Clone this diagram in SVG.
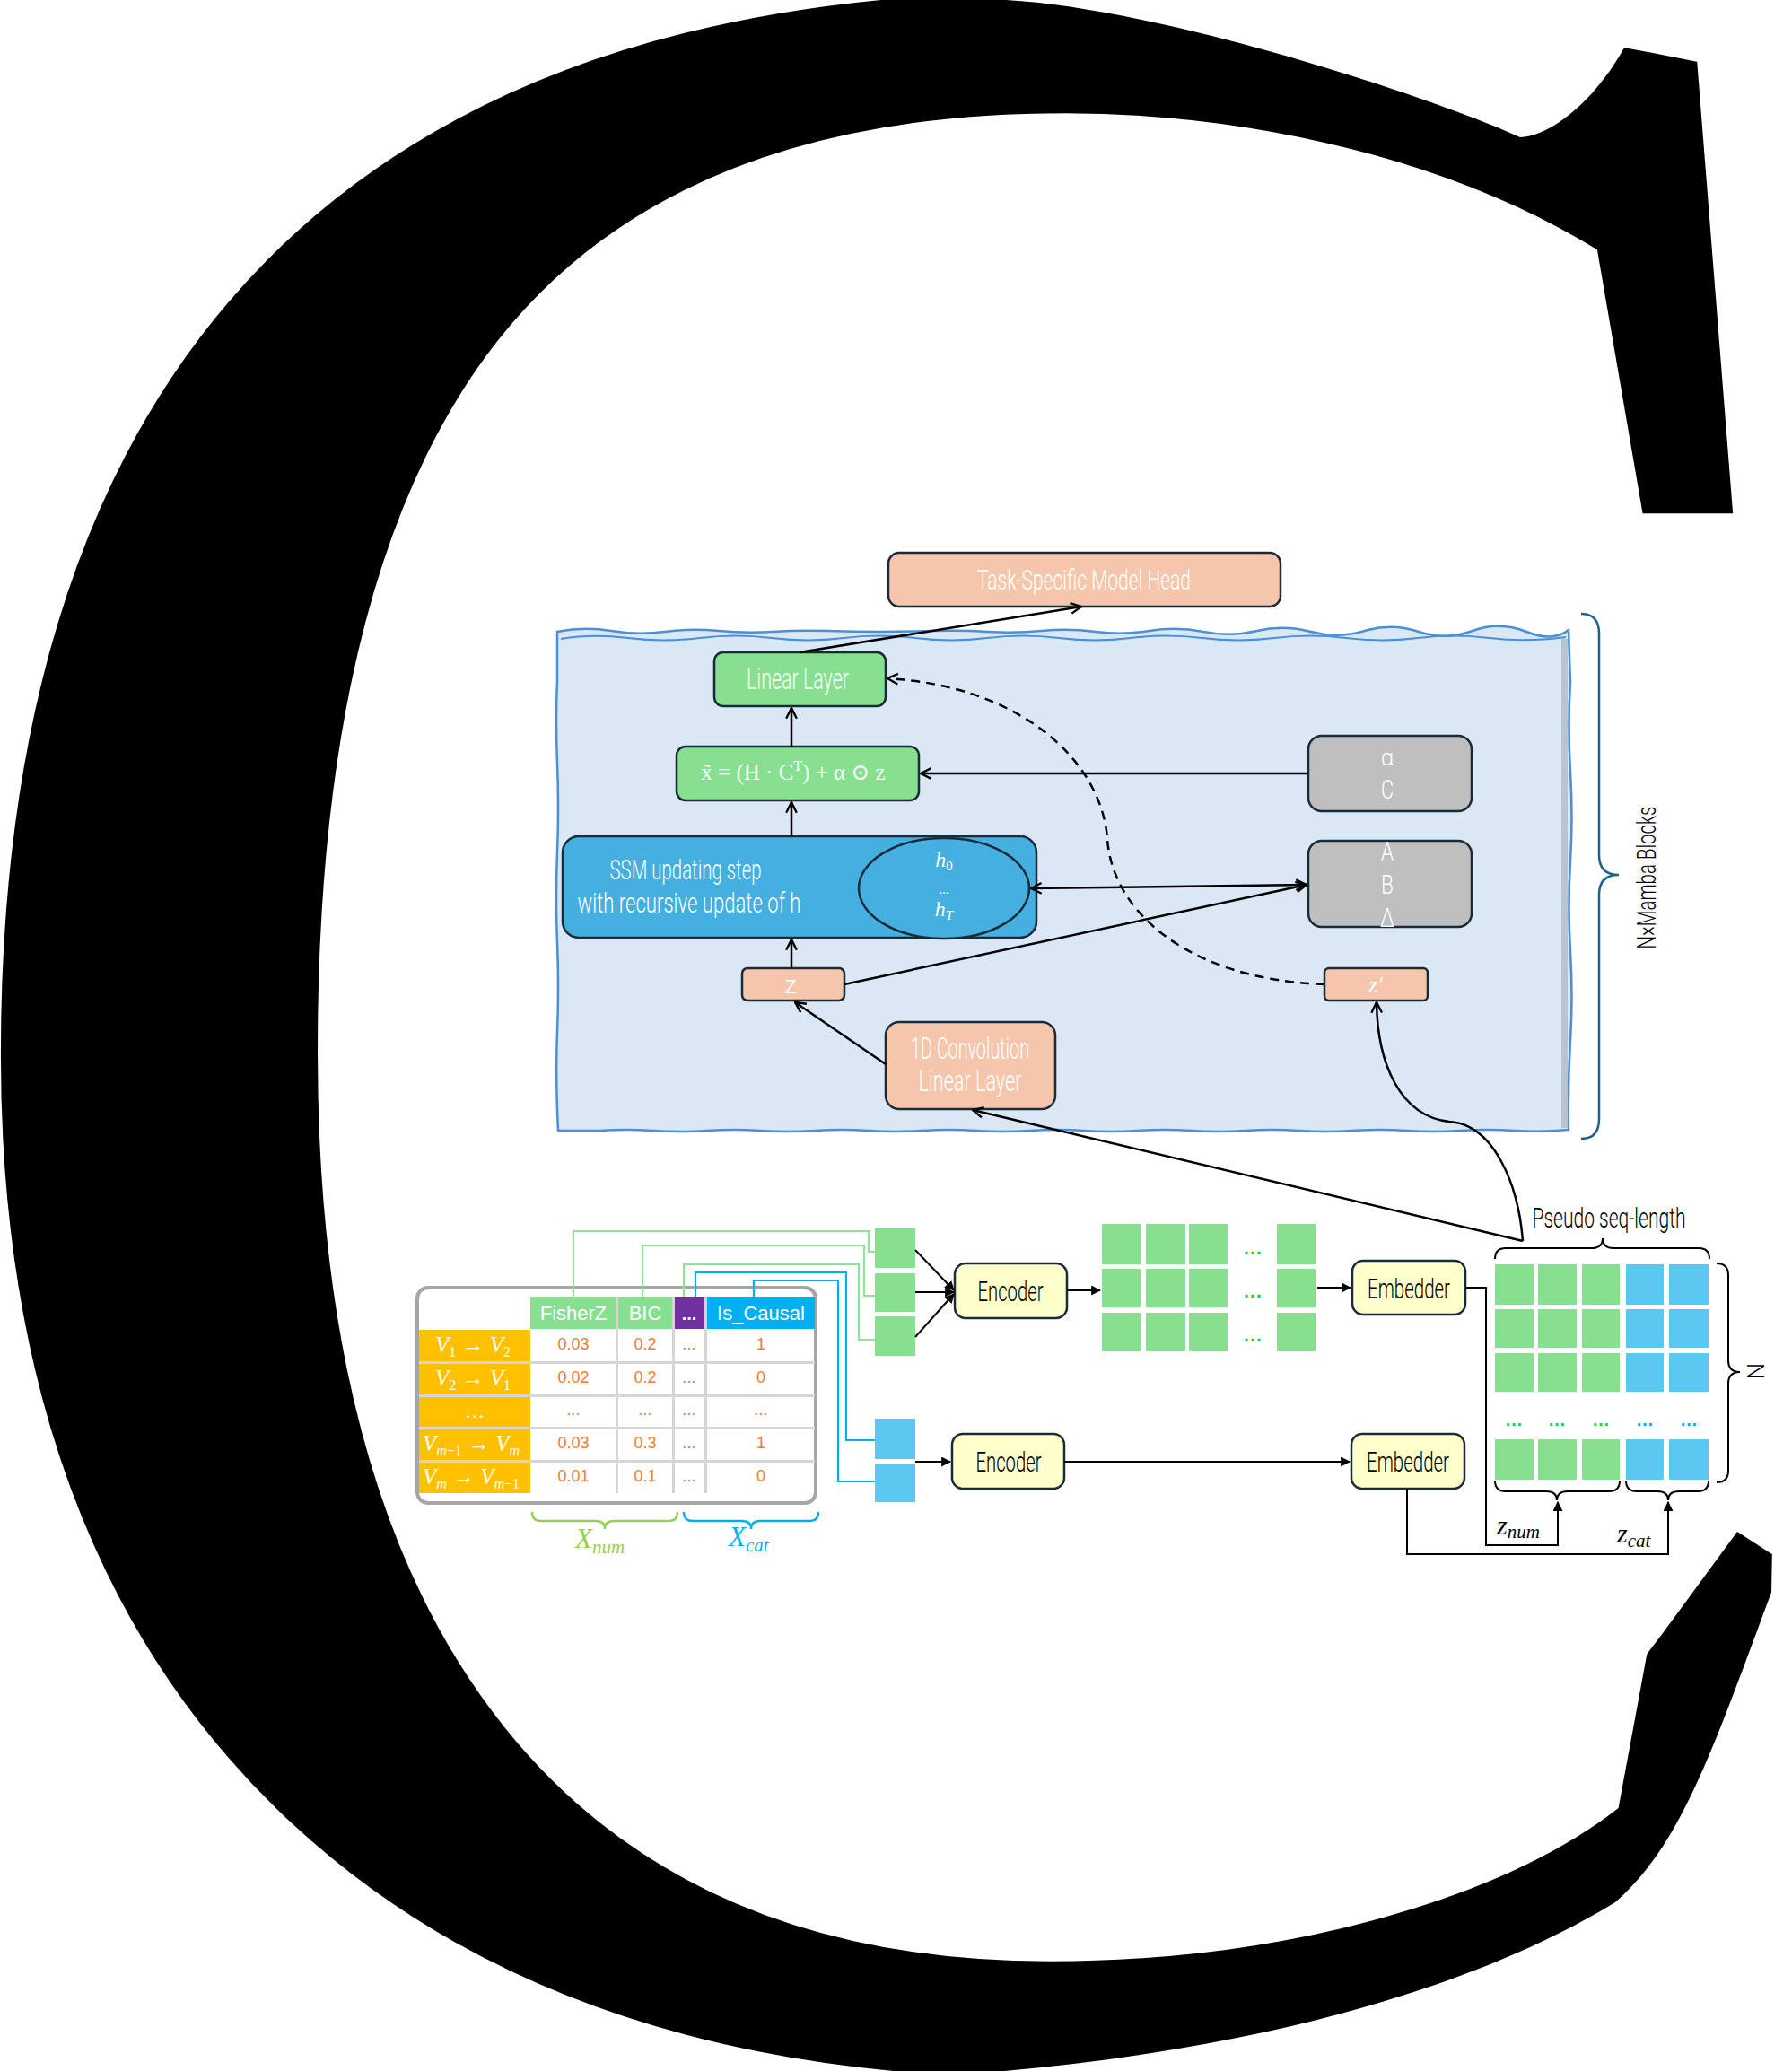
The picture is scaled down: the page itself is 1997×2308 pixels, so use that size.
<svg xmlns="http://www.w3.org/2000/svg" width="1997" height="2308" viewBox="0 0 1997 2308">
<style>
.bx{stroke:#1B2A38;stroke-width:2.5}
.pe{fill:#F5C6AC}
.gr{fill:#86E08F}
.gy{fill:#BFBFBF}
.yl{fill:#FFFFCC}
.cn{font-family:Roboto,'Open Sans',sans-serif;font-weight:300;text-anchor:middle}
.wt{fill:#FFFFFF}
.bk{fill:#000000}
.sr{font-family:'Liberation Serif','DejaVu Serif',serif}
.ar{font-family:'Liberation Sans',Arial,sans-serif;text-anchor:middle}
.ln{fill:none;stroke:#000;stroke-width:2.5}
.lb{fill:none;stroke:#000;stroke-width:2}
.gs{fill:#86E08F}
.bs{fill:#5BC8F2}
.or{fill:#ED7D31;font-size:18px}
</style>
<defs>
<marker id="ao" viewBox="0 0 12 12" refX="11" refY="6" markerWidth="14" markerHeight="14" markerUnits="userSpaceOnUse" orient="auto-start-reverse"><path d="M1,1 L11,6 L1,11" fill="none" stroke="#000" stroke-width="2"/></marker>
<marker id="af" viewBox="0 0 10 10" refX="9" refY="5" markerWidth="11" markerHeight="11" markerUnits="userSpaceOnUse" orient="auto"><path d="M0,0 L10,5 L0,10 z" fill="#000"/></marker>
<clipPath id="cclip"><path clip-rule="evenodd" d="M-50,-50 H2050 V2360 H-50 Z
M1121,-10 L1121,0 C1300,10 1600,110 1694,153 C1750,150 1820,60 1830,0 L1830,-10 Z
M1885,-10 L2010,-10 L2010,760 L1946,760 Z
M1700,1550 L2010,1550 L2010,2320 L1070,2320 L1070,2312 C1350,2292 1620,2230 1800,2120 C1880,2050 1915,1930 1987,1740 L1936,1707 L1853,1820 L1800,1890 L1700,1890 Z"/></clipPath>
</defs>
<rect width="1997" height="2308" fill="#FFFFFF"/>
<g id="bigC" clip-path="url(#cclip)"><text x="-141" y="2282" font-family="'Liberation Serif','Times New Roman',serif" font-size="3460" fill="#000">C</text></g>

<g id="mambaBlock">
<path d="M621,704 Q651,698 681,703 T741,704 T801,703 T861,704 T921,703 T981,704 T1041,703 T1101,704 T1161,703 T1221,704 T1281,703 T1341,704 T1401,703 T1461,704 T1521,703 T1581,704 T1641,703 T1701,704 T1748,702 L1750,760 Q1747,810 1750,860 T1750,960 T1750,1060 T1750,1160 T1748,1259 Q1718,1262 1688,1260 T1628,1260 T1568,1260 T1508,1260 T1448,1260 T1388,1260 T1328,1260 T1268,1260 T1208,1260 T1148,1260 T1088,1260 T1028,1260 T968,1260 T908,1260 T848,1260 T788,1260 T728,1260 T668,1260 L622,1260 Q619,1200 621,1150 T621,1050 T621,950 T621,850 T621,760 Z" fill="#DAE8F5" stroke="#4A8FD8" stroke-width="2.5"/>
<path d="M625,712 Q660,706 700,711 T780,711 T860,711 T940,711 T1020,711 T1100,711 T1180,711 T1260,711 T1340,711 T1420,711 T1500,711 T1580,711 T1660,711 T1745,710" fill="none" stroke="#4A8FD8" stroke-width="2"/>
<rect x="1740" y="712" width="7" height="545" fill="#B8C4D0"/>
</g>

<g id="braceMamba"><path d="M1762,684 q20,0 20,22 L1782,953 q0,22 22,22 q-22,0 -22,22 L1782,1247 q0,22 -20,22" fill="none" stroke="#1F5F8B" stroke-width="2.5"/>
<text class="cn bk" transform="translate(1845,978) rotate(-90)" font-size="30" textLength="159" lengthAdjust="spacingAndGlyphs">N×Mamba Blocks</text></g>

<g id="taskHead"><rect class="bx pe" x="990" y="616" width="437" height="60" rx="12"/><text class="cn wt" x="1208" y="657" font-size="32" textLength="238" lengthAdjust="spacingAndGlyphs">Task-Specific Model Head</text></g>
<g id="linearLayer"><rect class="bx gr" x="796" y="727" width="191" height="60" rx="10"/><text class="cn wt" x="889" y="768" font-size="33" textLength="114" lengthAdjust="spacingAndGlyphs">Linear Layer</text></g>
<g id="formula"><rect class="bx gr" x="754" y="832" width="270" height="60" rx="10"/><text class="sr wt" x="884" y="869" font-size="25" text-anchor="middle">x&#x303; = (H · C<tspan dy="-10" font-size="16">T</tspan><tspan dy="10">) + α ⊙ z</tspan></text></g>
<g id="ssm"><rect class="bx" fill="#45AFE0" x="627" y="932" width="528" height="113" rx="18"/>
<text class="cn wt" x="764" y="980" font-size="31" textLength="169" lengthAdjust="spacingAndGlyphs">SSM updating step</text>
<text class="cn wt" x="768" y="1017" font-size="31" textLength="249" lengthAdjust="spacingAndGlyphs">with recursive update of h</text>
<ellipse cx="1052" cy="990" rx="95" ry="56" fill="#45AFE0" stroke="#1B2A38" stroke-width="2.5"/>
<text class="sr wt" x="1052" y="966" font-size="24" text-anchor="middle" font-style="italic">h<tspan font-size="15" dy="4" font-style="normal">0</tspan></text>
<text class="sr wt" x="1052" y="996" font-size="14" text-anchor="middle">...</text>
<text class="sr wt" x="1052" y="1021" font-size="24" text-anchor="middle" font-style="italic">h<tspan font-size="15" dy="4">T</tspan></text></g>
<g id="alphaC"><rect class="bx gy" x="1458" y="820" width="182" height="84" rx="15"/><text class="cn wt" x="1546" y="853" font-size="26">α</text><text class="cn wt" x="1546" y="890" font-size="30" textLength="14" lengthAdjust="spacingAndGlyphs">C</text></g>
<g id="abDelta"><rect class="bx gy" x="1458" y="937" width="182" height="96" rx="15"/><text class="cn wt" x="1546" y="959" font-size="30" textLength="14" lengthAdjust="spacingAndGlyphs">A</text><text class="cn wt" x="1546" y="996" font-size="30" textLength="14" lengthAdjust="spacingAndGlyphs">B</text><text class="cn wt" x="1546" y="1033" font-size="30" textLength="16" lengthAdjust="spacingAndGlyphs">Δ</text></g>
<g id="zNode"><rect class="bx pe" x="827" y="1079" width="114" height="36" rx="6"/><text class="cn wt" x="881" y="1107" font-size="28">z</text></g>
<g id="zPrime"><rect class="bx pe" x="1476" y="1079" width="115" height="36" rx="5"/><text class="sr wt" x="1533" y="1106" font-size="26" text-anchor="middle" font-style="italic">z′</text></g>
<g id="conv"><rect class="bx pe" x="987" y="1139" width="189" height="97" rx="15"/><text class="cn wt" x="1081" y="1180" font-size="33" textLength="132" lengthAdjust="spacingAndGlyphs">1D Convolution</text><text class="cn wt" x="1081" y="1216" font-size="33" textLength="115" lengthAdjust="spacingAndGlyphs">Linear Layer</text></g>

<g id="table">
<rect x="465" y="1435" width="444" height="240" rx="12" fill="#FFFFFF" stroke="#A6A6A6" stroke-width="4"/>
<rect x="591" y="1445" width="96" height="36" fill="#86E08F"/>
<rect x="688" y="1445" width="61" height="36" fill="#86E08F"/>
<rect x="751" y="1445" width="34" height="36" fill="#7030A0"/>
<rect x="788" y="1445" width="120" height="36" fill="#00B0F0"/>
<text class="ar wt" x="639" y="1471" font-size="22">FisherZ</text>
<text class="ar wt" x="719" y="1471" font-size="22">BIC</text>
<text class="ar wt" x="768" y="1471" font-size="20" font-weight="bold">...</text>
<text class="ar wt" x="848" y="1471" font-size="22">Is_Causal</text>
<rect x="467" y="1482" width="124" height="35" fill="#FFC000"/>
<rect x="467" y="1520" width="124" height="34" fill="#FFC000"/>
<rect x="467" y="1557" width="124" height="33" fill="#FFC000"/>
<rect x="467" y="1593" width="124" height="34" fill="#FFC000"/>
<rect x="467" y="1630" width="124" height="34" fill="#FFC000"/>
<g fill="#D6D6D6"><rect x="467" y="1517" width="441" height="3"/><rect x="467" y="1554" width="441" height="3"/><rect x="467" y="1590" width="441" height="3"/><rect x="467" y="1627" width="441" height="3"/>
<rect x="686" y="1445" width="3" height="219"/><rect x="749" y="1445" width="3" height="219"/><rect x="785" y="1445" width="3" height="219"/></g>
<g class="sr wt" font-size="25" text-anchor="middle" font-style="italic">
<text x="527" y="1507">V<tspan font-size="16" dy="5" font-style="normal">1</tspan><tspan dy="-5" font-style="normal"> → </tspan>V<tspan font-size="16" dy="5" font-style="normal">2</tspan></text>
<text x="527" y="1544">V<tspan font-size="16" dy="5" font-style="normal">2</tspan><tspan dy="-5" font-style="normal"> → </tspan>V<tspan font-size="16" dy="5" font-style="normal">1</tspan></text>
<text x="529" y="1580" font-style="normal" font-size="22">…</text>
<text x="525" y="1617">V<tspan font-size="16" dy="5">m<tspan font-style="normal">−1</tspan></tspan><tspan dy="-5" font-style="normal"> → </tspan>V<tspan font-size="16" dy="5">m</tspan></text>
<text x="525" y="1654">V<tspan font-size="16" dy="5">m</tspan><tspan dy="-5" font-style="normal"> → </tspan>V<tspan font-size="16" dy="5">m<tspan font-style="normal">−1</tspan></tspan></text>
</g>
<g class="ar or">
<text x="639" y="1504">0.03</text><text x="719" y="1504">0.2</text><text x="768" y="1504">...</text><text x="848" y="1504">1</text>
<text x="639" y="1541">0.02</text><text x="719" y="1541">0.2</text><text x="768" y="1541">...</text><text x="848" y="1541">0</text>
<text x="639" y="1577">...</text><text x="719" y="1577">...</text><text x="768" y="1577">...</text><text x="848" y="1577">...</text>
<text x="639" y="1614">0.03</text><text x="719" y="1614">0.3</text><text x="768" y="1614">...</text><text x="848" y="1614">1</text>
<text x="639" y="1651">0.01</text><text x="719" y="1651">0.1</text><text x="768" y="1651">...</text><text x="848" y="1651">0</text>
</g>
</g>
<g id="xnum"><path d="M593,1685 q0,10 10,10 L664,1695 q10,0 10,9 q0,-9 10,-9 L745,1695 q10,0 10,-10" fill="none" stroke="#92D050" stroke-width="2.5"/>
<text class="sr" x="641" y="1725" font-size="31" font-style="italic" fill="#92D050">X<tspan font-size="21" dy="6">num</tspan></text></g>
<g id="xcat"><path d="M762,1685 q0,10 10,10 L827,1695 q10,0 10,9 q0,-9 10,-9 L902,1695 q10,0 10,-10" fill="none" stroke="#00B0F0" stroke-width="2.5"/>
<text class="sr" x="812" y="1723" font-size="31" font-style="italic" fill="#00B0F0">X<tspan font-size="21" dy="6">cat</tspan></text></g>

<g id="numSquares"><rect class="gs" x="975" y="1369" width="45" height="44"/><rect class="gs" x="975" y="1419" width="45" height="43"/><rect class="gs" x="975" y="1467" width="45" height="44"/></g>
<g id="catSquares"><rect class="bs" x="975" y="1581" width="45" height="45"/><rect class="bs" x="975" y="1631" width="45" height="43"/></g>
<g id="encoder1"><rect class="bx yl" x="1064" y="1408" width="125" height="61" rx="12"/><text class="cn bk" x="1126" y="1450" font-size="31" textLength="73" lengthAdjust="spacingAndGlyphs" font-weight="400">Encoder</text></g>
<g id="encoder2"><rect class="bx yl" x="1061" y="1598" width="125" height="61" rx="12"/><text class="cn bk" x="1124" y="1640" font-size="31" textLength="73" lengthAdjust="spacingAndGlyphs" font-weight="400">Encoder</text></g>
<g id="embedder1"><rect class="bx yl" x="1507" y="1405" width="126" height="60" rx="12"/><text class="cn bk" x="1570" y="1447" font-size="31" textLength="92" lengthAdjust="spacingAndGlyphs" font-weight="400">Embedder</text></g>
<g id="embedder2"><rect class="bx yl" x="1506" y="1598" width="126" height="61" rx="12"/><text class="cn bk" x="1569" y="1640" font-size="31" textLength="92" lengthAdjust="spacingAndGlyphs" font-weight="400">Embedder</text></g>

<g id="midGrid">
<rect class="gs" x="1228" y="1364" width="43" height="45"/><rect class="gs" x="1277" y="1364" width="44" height="45"/><rect class="gs" x="1325" y="1364" width="43" height="45"/><rect class="gs" x="1423" y="1364" width="43" height="45"/>
<rect class="gs" x="1228" y="1414" width="43" height="43"/><rect class="gs" x="1277" y="1414" width="44" height="43"/><rect class="gs" x="1325" y="1414" width="43" height="43"/><rect class="gs" x="1423" y="1414" width="43" height="43"/>
<rect class="gs" x="1228" y="1463" width="43" height="43"/><rect class="gs" x="1277" y="1463" width="44" height="43"/><rect class="gs" x="1325" y="1463" width="43" height="43"/><rect class="gs" x="1423" y="1463" width="43" height="43"/>
<g font-family="'Liberation Sans',sans-serif" font-size="22" font-weight="bold" fill="#2ECC40" text-anchor="middle"><text x="1396" y="1398">…</text><text x="1396" y="1446">…</text><text x="1396" y="1495">…</text></g>
</g>

<g id="seqGrid">
<g class="gs"><rect x="1666" y="1409" width="43" height="45"/><rect x="1714" y="1409" width="43" height="45"/><rect x="1763" y="1409" width="42" height="45"/>
<rect x="1666" y="1459" width="43" height="43"/><rect x="1714" y="1459" width="43" height="43"/><rect x="1763" y="1459" width="42" height="43"/>
<rect x="1666" y="1508" width="43" height="43"/><rect x="1714" y="1508" width="43" height="43"/><rect x="1763" y="1508" width="42" height="43"/>
<rect x="1666" y="1604" width="43" height="45"/><rect x="1714" y="1604" width="43" height="45"/><rect x="1763" y="1604" width="42" height="45"/></g>
<g class="bs"><rect x="1812" y="1409" width="42" height="45"/><rect x="1860" y="1409" width="44" height="45"/>
<rect x="1812" y="1459" width="42" height="43"/><rect x="1860" y="1459" width="44" height="43"/>
<rect x="1812" y="1508" width="42" height="43"/><rect x="1860" y="1508" width="44" height="43"/>
<rect x="1812" y="1604" width="42" height="45"/><rect x="1860" y="1604" width="44" height="45"/></g>
<g font-family="'Liberation Sans',sans-serif" font-size="20" font-weight="bold" text-anchor="middle"><text x="1687" y="1589" fill="#2ECC40">…</text><text x="1735" y="1589" fill="#2ECC40">…</text><text x="1784" y="1589" fill="#2ECC40">…</text><text x="1833" y="1589" fill="#1AA3E8">…</text><text x="1882" y="1589" fill="#1AA3E8">…</text></g>
<path d="M1666,1403 q0,-12 12,-12 L1774,1391 q12,0 12,-11 q0,11 12,11 L1893,1391 q12,0 12,12" fill="none" stroke="#000" stroke-width="2"/>
<text class="cn bk" x="1793" y="1368" font-size="31" font-weight="400" textLength="171" lengthAdjust="spacingAndGlyphs">Pseudo seq-length</text>
<path d="M1913,1408 q13,0 13,13 L1926,1516 q0,13 13,13 q-13,0 -13,13 L1926,1639 q0,13 -13,13" fill="none" stroke="#000" stroke-width="2"/>
<text class="cn bk" transform="translate(1966,1528) rotate(-90)" font-size="26" font-weight="400">N</text>
<path d="M1666,1650 q0,12 12,12 L1723,1662 q12,0 12,10 q0,-10 12,-10 L1793,1662 q12,0 12,-12" fill="none" stroke="#000" stroke-width="2"/>
<path d="M1812,1650 q0,12 12,12 L1847,1662 q12,0 12,10 q0,-10 12,-10 L1892,1662 q12,0 12,-12" fill="none" stroke="#000" stroke-width="2"/>
<text class="sr bk" x="1668" y="1710" font-size="30" font-style="italic">z<tspan font-size="21" dy="4">num</tspan></text>
<text class="sr bk" x="1802" y="1719" font-size="30" font-style="italic">z<tspan font-size="21" dy="5">cat</tspan></text>
</g>

<g id="connectors">
<path class="ln" d="M891,727 L1205,676" marker-end="url(#ao)"/>
<path class="ln" d="M882,832 L882,789" marker-end="url(#ao)"/>
<path class="ln" d="M882,932 L882,894" marker-end="url(#ao)"/>
<path class="ln" d="M882,1079 L882,1047" marker-end="url(#ao)"/>
<path class="ln" d="M1458,862 L1026,862" marker-end="url(#ao)"/>
<path class="ln" d="M1149,990 L1456,986" marker-start="url(#ao)" marker-end="url(#ao)"/>
<path class="ln" d="M941,1097 L1456,986" marker-end="url(#ao)"/>
<path class="ln" d="M987,1186 L886,1117" marker-end="url(#ao)"/>
<path class="ln" d="M1697,1383 L1084,1237" marker-end="url(#ao)"/>
<path class="ln" d="M1697,1383 C1692,1320 1665,1253 1615,1250 C1560,1244 1535,1185 1534,1117" marker-end="url(#ao)"/>
<path class="ln" d="M1476,1097 C1330,1092 1240,1020 1234,935 C1228,850 1140,765 989,756" stroke-dasharray="10,7" marker-end="url(#ao)"/>
<g fill="none" stroke="#8FE39A" stroke-width="2.2">
<path d="M639,1445 V1372 H968 V1395 H975"/>
<path d="M716,1445 V1388 H963 V1444 H975"/>
<path d="M762,1445 V1409 H957 V1493 H975"/>
</g>
<g fill="none" stroke="#00B0F0" stroke-width="2.2">
<path d="M775,1445 V1418 H943 V1605 H975"/>
<path d="M840,1445 V1427 H934 V1651 H975"/>
</g>
<path class="lb" d="M1020,1393 L1063,1438" marker-end="url(#af)"/>
<path class="lb" d="M1020,1440 L1063,1440" marker-end="url(#af)"/>
<path class="lb" d="M1020,1490 L1063,1442" marker-end="url(#af)"/>
<path class="lb" d="M1189,1438 L1226,1438" marker-end="url(#af)"/>
<path class="lb" d="M1468,1435 L1505,1435" marker-end="url(#af)"/>
<path class="lb" d="M1633,1435 H1656 V1722 H1736 V1674" marker-end="url(#af)"/>
<path class="lb" d="M1020,1629 L1059,1629" marker-end="url(#af)"/>
<path class="lb" d="M1186,1629 L1504,1629" marker-end="url(#af)"/>
<path class="lb" d="M1568,1659 V1732 H1859 V1674" marker-end="url(#af)"/>
</g>
</svg>
